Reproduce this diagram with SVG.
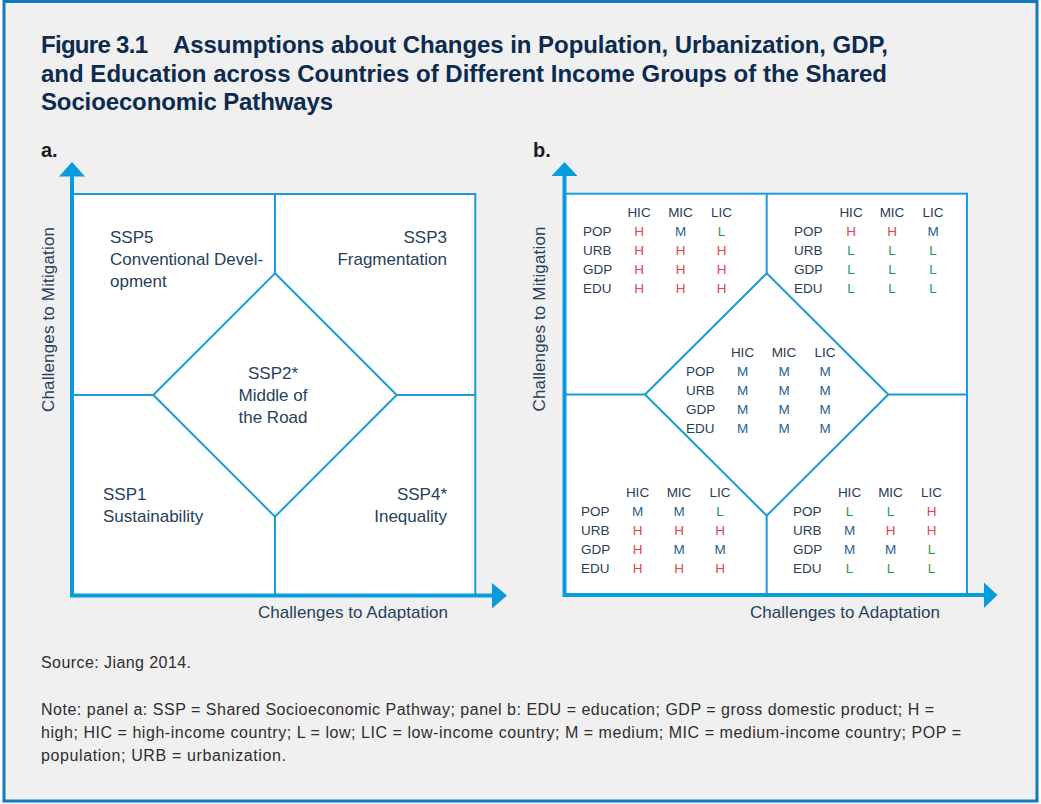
<svg xmlns="http://www.w3.org/2000/svg" width="1041" height="804" viewBox="0 0 1041 804">
<style>
text{font-family:"Liberation Sans",Arial,sans-serif}
.title{font-size:24px;font-weight:bold;fill:#0d2b4e}
.pl{font-size:20px;font-weight:bold;fill:#1c1c1c}
.lab{font-size:17px;fill:#27405c}
.tb{font-size:13.5px;fill:#2a3d55}
.v{text-anchor:middle}
.H{fill:#e0464c}.M{fill:#2b5f8e}.L{fill:#1e9a4e}
.ln{stroke:#1a9ad8;stroke-width:2;fill:none}
.box{stroke:#1a9ad8;stroke-width:2;fill:#ffffff}
.axis{stroke:#079ddd;stroke-width:4;fill:none}
.ah{fill:#079ddd}
.note{font-size:16px;fill:#2e2e2e}
</style>
<rect x="4" y="1.5" width="1033" height="799.5" fill="#f0f0f0" stroke="#1279bd" stroke-width="3"/>
<g id="title">
<text class="title" x="41" y="53" textLength="107">Figure 3.1</text>
<text class="title" x="173" y="53" textLength="715">Assumptions about Changes in Population, Urbanization, GDP,</text>
<text class="title" x="41" y="82" textLength="846">and Education across Countries of Different Income Groups of the Shared</text>
<text class="title" x="41" y="110" textLength="292">Socioeconomic Pathways</text>
</g>
<text class="pl" x="41" y="157">a.</text>
<text class="pl" x="533" y="157">b.</text>

<g id="connectors">
<!-- panel a -->
<rect class="box" x="72" y="194" width="403.3" height="401.3"/>
<path class="ln" d="M275,194 V273.3 M275,516.7 V595 M72,395 H153.3 M396.7,395 H475.3"/>
<polygon class="ln" points="275,273.3 396.7,395 275,516.7 153.3,395"/>
<path class="axis" d="M72,597 V172 M70,595.5 H495"/>
<polygon class="ah" points="72,162 85,176.5 59,176.5"/>
<polygon class="ah" points="507,595.5 492,583 492,608.5"/>
<!-- panel b -->
<rect class="box" x="564.5" y="193.7" width="402.5" height="401.3"/>
<path class="ln" d="M766.7,193.7 V273.3 M766.7,515.7 V595 M564.5,394.5 H645 M888.3,394.5 H967"/>
<polygon class="ln" points="766.7,273.3 888.3,394.5 766.7,515.7 645,394.5"/>
<path class="axis" d="M564.5,597 V172 M562.5,595 H986"/>
<polygon class="ah" points="564.5,162 577.5,176 551.5,176"/>
<polygon class="ah" points="997.5,595 984,582.5 984,608"/>
</g>

<g id="axis-labels">
<text class="lab" x="258" y="618" textLength="190">Challenges to Adaptation</text>
<text class="lab" x="750" y="618" textLength="190">Challenges to Adaptation</text>
<text class="lab" transform="translate(53.5,319.5) rotate(-90)" text-anchor="middle" textLength="185">Challenges to Mitigation</text>
<text class="lab" transform="translate(545,319) rotate(-90)" text-anchor="middle" textLength="185">Challenges to Mitigation</text>
</g>

<g id="ssp5">
<text class="lab" x="110" y="243">SSP5</text>
<text class="lab" x="110" y="265">Conventional Devel-</text>
<text class="lab" x="110" y="287">opment</text>
</g>
<g id="ssp3">
<text class="lab" x="447" y="243" text-anchor="end">SSP3</text>
<text class="lab" x="447" y="265" text-anchor="end">Fragmentation</text>
</g>
<g id="ssp2">
<text class="lab" x="273" y="379" text-anchor="middle">SSP2*</text>
<text class="lab" x="273" y="401" text-anchor="middle">Middle of</text>
<text class="lab" x="273" y="423" text-anchor="middle">the Road</text>
</g>
<g id="ssp1">
<text class="lab" x="103" y="500">SSP1</text>
<text class="lab" x="103" y="522">Sustainability</text>
</g>
<g id="ssp4">
<text class="lab" x="447" y="500" text-anchor="end">SSP4*</text>
<text class="lab" x="447" y="522" text-anchor="end">Inequality</text>
</g>

<g id="table-ssp5">
<text class="tb v" x="639" y="216.5">HIC</text><text class="tb v" x="680.5" y="216.5">MIC</text><text class="tb v" x="721.5" y="216.5">LIC</text>
<text class="tb" x="583" y="235.5">POP</text><text class="tb v H" x="639" y="235.5">H</text><text class="tb v M" x="680.5" y="235.5">M</text><text class="tb v L" x="721.5" y="235.5">L</text>
<text class="tb" x="583" y="254.5">URB</text><text class="tb v H" x="639" y="254.5">H</text><text class="tb v H" x="680.5" y="254.5">H</text><text class="tb v H" x="721.5" y="254.5">H</text>
<text class="tb" x="583" y="273.5">GDP</text><text class="tb v H" x="639" y="273.5">H</text><text class="tb v H" x="680.5" y="273.5">H</text><text class="tb v H" x="721.5" y="273.5">H</text>
<text class="tb" x="583" y="292.5">EDU</text><text class="tb v H" x="639" y="292.5">H</text><text class="tb v H" x="680.5" y="292.5">H</text><text class="tb v H" x="721.5" y="292.5">H</text>
</g>
<g id="table-ssp3">
<text class="tb v" x="851" y="216.5">HIC</text><text class="tb v" x="892" y="216.5">MIC</text><text class="tb v" x="933" y="216.5">LIC</text>
<text class="tb" x="794" y="235.5">POP</text><text class="tb v H" x="851" y="235.5">H</text><text class="tb v H" x="892" y="235.5">H</text><text class="tb v M" x="933" y="235.5">M</text>
<text class="tb" x="794" y="254.5">URB</text><text class="tb v L" x="851" y="254.5">L</text><text class="tb v L" x="892" y="254.5">L</text><text class="tb v L" x="933" y="254.5">L</text>
<text class="tb" x="794" y="273.5">GDP</text><text class="tb v L" x="851" y="273.5">L</text><text class="tb v L" x="892" y="273.5">L</text><text class="tb v L" x="933" y="273.5">L</text>
<text class="tb" x="794" y="292.5">EDU</text><text class="tb v L" x="851" y="292.5">L</text><text class="tb v L" x="892" y="292.5">L</text><text class="tb v L" x="933" y="292.5">L</text>
</g>
<g id="table-ssp2">
<text class="tb v" x="742.5" y="356.5">HIC</text><text class="tb v" x="784" y="356.5">MIC</text><text class="tb v" x="825" y="356.5">LIC</text>
<text class="tb" x="686" y="375.5">POP</text><text class="tb v M" x="742.5" y="375.5">M</text><text class="tb v M" x="784" y="375.5">M</text><text class="tb v M" x="825" y="375.5">M</text>
<text class="tb" x="686" y="394.5">URB</text><text class="tb v M" x="742.5" y="394.5">M</text><text class="tb v M" x="784" y="394.5">M</text><text class="tb v M" x="825" y="394.5">M</text>
<text class="tb" x="686" y="413.5">GDP</text><text class="tb v M" x="742.5" y="413.5">M</text><text class="tb v M" x="784" y="413.5">M</text><text class="tb v M" x="825" y="413.5">M</text>
<text class="tb" x="686" y="432.5">EDU</text><text class="tb v M" x="742.5" y="432.5">M</text><text class="tb v M" x="784" y="432.5">M</text><text class="tb v M" x="825" y="432.5">M</text>
</g>
<g id="table-ssp1">
<text class="tb v" x="637.5" y="497">HIC</text><text class="tb v" x="679" y="497">MIC</text><text class="tb v" x="720" y="497">LIC</text>
<text class="tb" x="581" y="516">POP</text><text class="tb v M" x="637.5" y="516">M</text><text class="tb v M" x="679" y="516">M</text><text class="tb v L" x="720" y="516">L</text>
<text class="tb" x="581" y="535">URB</text><text class="tb v H" x="637.5" y="535">H</text><text class="tb v H" x="679" y="535">H</text><text class="tb v H" x="720" y="535">H</text>
<text class="tb" x="581" y="554">GDP</text><text class="tb v H" x="637.5" y="554">H</text><text class="tb v M" x="679" y="554">M</text><text class="tb v M" x="720" y="554">M</text>
<text class="tb" x="581" y="573">EDU</text><text class="tb v H" x="637.5" y="573">H</text><text class="tb v H" x="679" y="573">H</text><text class="tb v H" x="720" y="573">H</text>
</g>
<g id="table-ssp4">
<text class="tb v" x="849.5" y="497">HIC</text><text class="tb v" x="890.5" y="497">MIC</text><text class="tb v" x="931.5" y="497">LIC</text>
<text class="tb" x="793" y="516">POP</text><text class="tb v L" x="849.5" y="516">L</text><text class="tb v L" x="890.5" y="516">L</text><text class="tb v H" x="931.5" y="516">H</text>
<text class="tb" x="793" y="535">URB</text><text class="tb v M" x="849.5" y="535">M</text><text class="tb v H" x="890.5" y="535">H</text><text class="tb v H" x="931.5" y="535">H</text>
<text class="tb" x="793" y="554">GDP</text><text class="tb v M" x="849.5" y="554">M</text><text class="tb v M" x="890.5" y="554">M</text><text class="tb v L" x="931.5" y="554">L</text>
<text class="tb" x="793" y="573">EDU</text><text class="tb v L" x="849.5" y="573">L</text><text class="tb v L" x="890.5" y="573">L</text><text class="tb v L" x="931.5" y="573">L</text>
</g>

<g id="notes">
<text class="note" x="41" y="668" textLength="150">Source: Jiang 2014.</text>
<text class="note" x="41" y="715" textLength="893">Note: panel a: SSP = Shared Socioeconomic Pathway; panel b: EDU = education; GDP = gross domestic product; H =</text>
<text class="note" x="41" y="738" textLength="920">high; HIC = high-income country; L = low; LIC = low-income country; M = medium; MIC = medium-income country; POP =</text>
<text class="note" x="41" y="761" textLength="245">population; URB = urbanization.</text>
</g>
</svg>
